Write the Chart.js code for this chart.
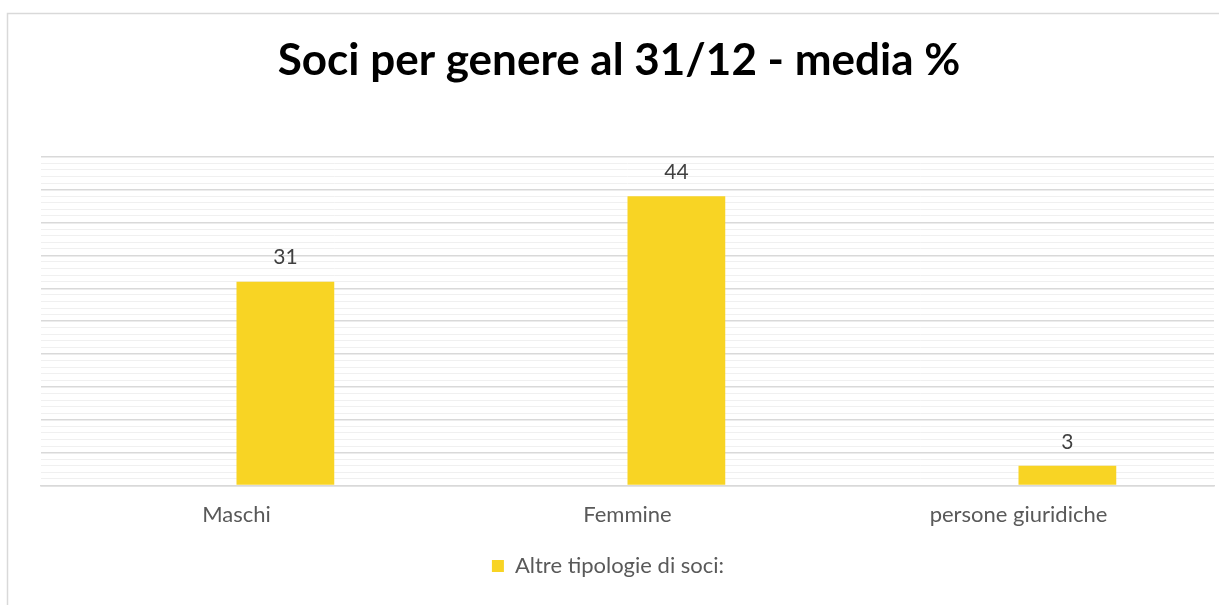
<!DOCTYPE html>
<html>
<head>
<meta charset="utf-8">
<script src="https://cdn.jsdelivr.net/npm/chart.js@4/dist/chart.umd.min.js"></script>
<style>
  html, body { margin: 0; padding: 0; background: #ffffff; }
  #wrap { position: relative; width: 1219px; height: 605px; }
  canvas { display: block; }
</style>
</head>
<body>
<div id="wrap"><canvas id="c" width="1219" height="605"></canvas></div>
<script>
const categories = ["Maschi", "Femmine", "persone giuridiche"];
const seriesName = "Altre tipologie di soci:";
const seriesValues = [31, 44, 3];
const emptySeries = [null, null, null];
const titleText = "Soci per genere al 31/12 - media %";
const yMin = 0, yMax = 50, yStep = 1, yMajor = 5;

const FONT = "Lato, 'Open Sans', sans-serif";
const YELLOW = "#F8D424";

const frame = {
  id: 'frame',
  beforeDraw(chart) {
    const ctx = chart.ctx;
    ctx.save();
    ctx.fillStyle = '#ffffff';
    ctx.fillRect(0, 0, chart.width, chart.height);
    ctx.strokeStyle = '#d9d9d9';
    ctx.lineWidth = 1.5;
    ctx.strokeRect(7.5, 13.5, 1300, 700);
    ctx.restore();
  }
};

const legendShift = {
  id: 'legendShift',
  afterLayout(chart) {
    if (chart.legend) {
      chart.legend.left -= 11;
      chart.legend.right -= 11;
    }
  }
};

const valueLabels = {
  id: 'valueLabels',
  afterDatasetsDraw(chart) {
    const ctx = chart.ctx;
    const meta = chart.getDatasetMeta(1);
    ctx.save();
    ctx.font = "21px " + FONT;
    ctx.fillStyle = '#404040';
    ctx.textAlign = 'center';
    ctx.textBaseline = 'middle';
    meta.data.forEach((el, i) => {
      const v = chart.data.datasets[1].data[i];
      if (v == null) return;
      ctx.fillText(String(v), el.x, el.y - 24);
    });
    ctx.restore();
  }
};

new Chart(document.getElementById('c'), {
  type: 'bar',
  data: {
    labels: categories,
    datasets: [
      { label: '', data: emptySeries, backgroundColor: 'rgba(0,0,0,0)' },
      { label: seriesName, data: seriesValues, backgroundColor: YELLOW, borderWidth: 0 }
    ]
  },
  options: {
    responsive: false,
    animation: false,
    devicePixelRatio: 1,
    datasets: { bar: { barPercentage: 1.0, categoryPercentage: 0.5 } },
    layout: { padding: { left: 24, right: 5, top: 0, bottom: 18 } },
    plugins: {
      tooltip: { enabled: false },
      title: {
        display: true,
        text: titleText,
        color: '#000000',
        font: { family: FONT, size: 44, weight: 'bold' },
        padding: { top: 34, bottom: 70 }
      },
      legend: {
        display: true,
        position: 'bottom',
        labels: {
          filter: (item) => item.datasetIndex === 1,
          boxWidth: 12,
          boxHeight: 12,
          padding: 10,
          color: '#595959',
          font: { family: FONT, size: 22 }
        }
      }
    },
    scales: {
      x: {
        grid: { display: false, drawTicks: false },
        border: { display: true, color: '#d9d9d9', width: 1.5 },
        ticks: { color: '#595959', font: { family: FONT, size: 22 }, padding: 16 },
        afterFit(scale) { scale.height = 59.5; }
      },
      y: {
        min: yMin, max: yMax,
        ticks: { display: false, stepSize: yStep },
        border: { display: false },
        afterFit(scale) { scale.width = 17; },
        grid: {
          drawTicks: false,
          color: (c) => (c.tick && c.tick.value % yMajor === 0) ? '#d9d9d9' : '#f0f0f0',
          lineWidth: (c) => (c.tick && c.tick.value % yMajor === 0) ? 1.5 : 1
        }
      }
    }
  },
  plugins: [frame, legendShift, valueLabels]
});
</script>
</body>
</html>
